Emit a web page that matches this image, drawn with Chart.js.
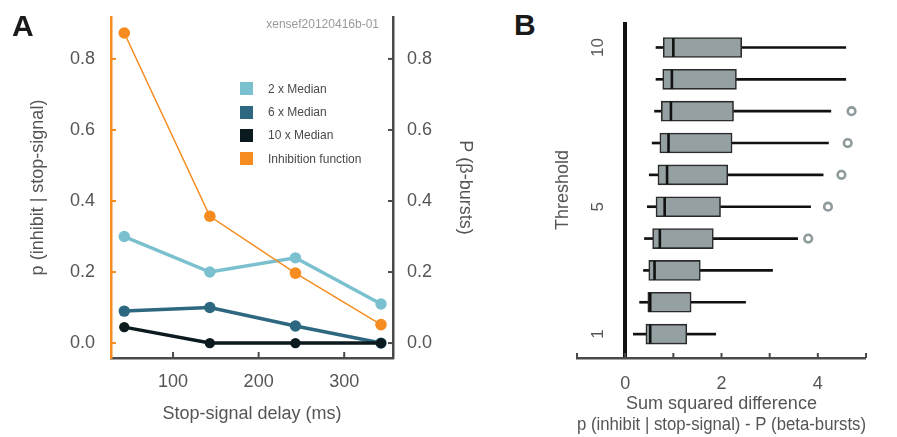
<!DOCTYPE html>
<html>
<head>
<meta charset="utf-8">
<script src="https://cdn.jsdelivr.net/npm/chart.js@4/dist/chart.umd.min.js"></script>
<style>
  html, body { margin: 0; padding: 0; background: #fff; }
  body { width: 897px; height: 437px; position: relative; overflow: hidden; font-family: "Liberation Sans", Arial, sans-serif; }
  #cA { position: absolute; left: 0; top: 0; }
  #cB { position: absolute; left: 540px; top: 0; }
  .panel { position: absolute; font-weight: bold; font-size: 30px; line-height: 30px; color: #1a1a1a; }
  #sid { position: absolute; right: 518px; top: 18px; font-size: 12px; line-height: 12px; color: #9a9a9a; }
  #legA { position: absolute; left: 240px; top: 77px; }
  .li { display: flex; align-items: center; height: 23.4px; font-size: 12px; color: #4a4a4a; }
  .sw { width: 13px; height: 13px; margin-right: 15px; }
</style>
</head>
<body>
<canvas id="cA" width="480" height="437"></canvas>
<canvas id="cB" width="357" height="437"></canvas>
<div class="panel" style="left:12px;top:11px;">A</div>
<div class="panel" style="left:514px;top:10px;">B</div>
<div id="sid">xensef20120416b-01</div>
<div id="legA"></div>
<script>
// ---------- Panel A data ----------
const DELAYS = [43, 143, 243, 343];
const MED2 = [0.30, 0.20, 0.24, 0.11];
const MED6 = [0.09, 0.10, 0.048, 0.0];
const MED10 = [0.045, 0.0, 0.0, 0.0];
const INHIB = [0.873, 0.357, 0.197, 0.052];
const SERIES_LABELS = ['2 x Median', '6 x Median', '10 x Median', 'Inhibition function'];
const A_Y_TICKS = [0, 0.2, 0.4, 0.6, 0.8];
const A_X_TICKS = [100, 200, 300];

// ---------- Panel B data ----------
const THRESHOLDS = [1, 2, 3, 4, 5, 6, 7, 8, 9, 10];
const WHISK_LO = [0.17, 0.30, 0.38, 0.40, 0.46, 0.50, 0.56, 0.61, 0.64, 0.64];
const Q1 = [0.43, 0.47, 0.49, 0.57, 0.64, 0.68, 0.72, 0.75, 0.78, 0.79];
const MEDIAN = [0.52, 0.52, 0.61, 0.72, 0.82, 0.87, 0.90, 0.95, 0.97, 1.00];
const Q3 = [1.28, 1.37, 1.56, 1.83, 1.98, 2.13, 2.22, 2.25, 2.31, 2.42];
const WHISK_HI = [1.88, 2.50, 3.06, 3.58, 3.85, 4.11, 4.22, 4.27, 4.58, 4.58];
const OUTLIER_T = [4, 5, 6, 7, 8];
const OUTLIER_V = [3.80, 4.21, 4.49, 4.62, 4.70];
const B_Y_TICKS = [1, 5, 10];
const B_X_TICKS = [-1, 0, 1, 2, 3, 4, 5];
const B_X_LABELS = ['', '0', '', '2', '', '4', ''];

Chart.defaults.font.family = '"Liberation Sans", Arial, sans-serif';
Chart.defaults.color = '#555';

const inwardTicks = {
  id: 'inwardTicks',
  afterDraw(chart, args, opts) {
    const ctx = chart.ctx;
    (opts.axes || []).forEach(a => {
      const s = chart.scales[a.id];
      if (!s) return;
      ctx.save();
      ctx.strokeStyle = a.color;
      ctx.lineWidth = a.width || 2;
      s.ticks.forEach(t => {
        const p = s.getPixelForValue(t.value);
        ctx.beginPath();
        if (s.position === 'left') { ctx.moveTo(s.right, p); ctx.lineTo(s.right + a.len, p); }
        else if (s.position === 'right') { ctx.moveTo(s.left, p); ctx.lineTo(s.left - a.len, p); }
        else { ctx.moveTo(p, s.top); ctx.lineTo(p, s.top - a.len); }
        ctx.stroke();
      });
      ctx.restore();
    });
  }
};

const fixV = w => s => { s.width = w; s.paddingTop = 0; s.paddingBottom = 0; };
const fixH = h => s => { s.height = h; s.paddingLeft = 0; s.paddingRight = 0; };

const mkPts = (xs, ys) => xs.map((x, i) => ({ x: x, y: ys[i] }));
const COL = ['#7ac0cf', '#2d6880', '#0b1a1e', '#f68b1f'];

const chartA = new Chart(document.getElementById('cA'), {
  type: 'line',
  data: {
    datasets: [
      { label: SERIES_LABELS[0], data: mkPts(DELAYS, MED2), yAxisID: 'y2', borderColor: COL[0], backgroundColor: COL[0], borderWidth: 3.5, pointRadius: 5.7, pointBorderWidth: 0, order: 4 },
      { label: SERIES_LABELS[1], data: mkPts(DELAYS, MED6), yAxisID: 'y2', borderColor: COL[1], backgroundColor: COL[1], borderWidth: 3.5, pointRadius: 5.7, pointBorderWidth: 0, order: 3 },
      { label: SERIES_LABELS[2], data: mkPts(DELAYS, MED10), yAxisID: 'y2', borderColor: COL[2], backgroundColor: COL[2], borderWidth: 3.5, pointRadius: 5.2, pointBorderWidth: 0, order: 2 },
      { label: SERIES_LABELS[3], data: mkPts(DELAYS, INHIB), yAxisID: 'y', borderColor: COL[3], backgroundColor: COL[3], borderWidth: 1.5, pointRadius: 5.8, pointBorderWidth: 0, order: 1 }
    ]
  },
  options: {
    responsive: false, animation: false, clip: false,
    layout: { padding: { top: 17, left: 0, right: 0, bottom: 0 } },
    plugins: {
      legend: { display: false }, tooltip: { enabled: false },
      inwardTicks: { axes: [
        { id: 'y', color: '#f68b1f', len: 5 },
        { id: 'y2', color: '#4a4a4a', len: 5 },
        { id: 'x', color: '#4a4a4a', len: 6 }
      ] }
    },
    scales: {
      x: {
        type: 'linear', position: 'bottom', min: 27.5, max: 357,
        afterBuildTicks: s => { s.ticks = A_X_TICKS.map(v => ({ value: v })); },
        afterFit: fixH(79),
        ticks: { font: { size: 18 }, color: '#555', padding: 13 },
        grid: { display: false, drawTicks: false },
        border: { display: true, color: '#4a4a4a', width: 2.5 },
        title: { display: true, text: 'Stop-signal delay (ms)', font: { size: 18 }, color: '#555', padding: { top: 0, bottom: 12 } }
      },
      y: {
        type: 'linear', position: 'left', min: -0.042, max: 0.918,
        afterBuildTicks: s => { s.ticks = A_Y_TICKS.map(v => ({ value: v })); },
        afterFit: fixV(111),
        ticks: { font: { size: 18 }, color: '#555', padding: 16, callback: v => v.toFixed(1) },
        grid: { display: false, drawTicks: false },
        border: { display: true, color: '#f68b1f', width: 2.5 },
        title: { display: true, text: 'p (inhibit | stop-signal)', font: { size: 18 }, color: '#555', padding: { top: 27, bottom: 0 } }
      },
      y2: {
        type: 'linear', position: 'right', min: -0.042, max: 0.918,
        afterBuildTicks: s => { s.ticks = A_Y_TICKS.map(v => ({ value: v })); },
        afterFit: fixV(87),
        ticks: { font: { size: 18 }, color: '#555', padding: 14, callback: v => v.toFixed(1) },
        grid: { display: false, drawTicks: false },
        border: { display: true, color: '#4a4a4a', width: 2.5 },
        title: { display: true, text: 'P (β-bursts)', font: { size: 18 }, color: '#555', padding: { top: 4, bottom: 0 } }
      }
    }
  },
  plugins: [inwardTicks]
});

// HTML legend built from chart datasets
(function () {
  const leg = document.getElementById('legA');
  chartA.data.datasets.forEach(ds => {
    const row = document.createElement('div');
    row.className = 'li';
    const sw = document.createElement('div');
    sw.className = 'sw';
    sw.style.background = ds.borderColor;
    const tx = document.createElement('span');
    tx.textContent = ds.label;
    row.appendChild(sw); row.appendChild(tx);
    leg.appendChild(row);
  });
})();

const rows = (lo, hi) => THRESHOLDS.map((t, i) => ({ y: t, x: [lo[i], hi[i]] }));

new Chart(document.getElementById('cB'), {
  type: 'bar',
  data: {
    datasets: [
      { type: 'bar', indexAxis: 'y', grouped: false, data: rows(WHISK_LO, Q1), backgroundColor: '#111', borderWidth: 0, barThickness: 2, order: 4 },
      { type: 'bar', indexAxis: 'y', grouped: false, data: rows(Q3, WHISK_HI), backgroundColor: '#111', borderWidth: 0, barThickness: 2, order: 4 },
      { type: 'bar', indexAxis: 'y', grouped: false, data: rows(Q1, Q3), backgroundColor: '#95a0a3', borderColor: '#2b2b2b', borderWidth: 1.6, borderSkipped: false, barThickness: 20, order: 3 },
      { type: 'scatter', data: mkPts(MEDIAN, THRESHOLDS), pointStyle: 'line', rotation: 90, pointRadius: 9.5, borderColor: '#111', borderWidth: 2.6, order: 2 },
      { type: 'scatter', data: mkPts(OUTLIER_V, OUTLIER_T), pointStyle: 'circle', pointRadius: 3.8, borderColor: '#8e9a9c', backgroundColor: 'rgba(255,255,255,0)', borderWidth: 2.6, order: 1 }
    ]
  },
  options: {
    responsive: false, animation: false, indexAxis: 'y',
    layout: { padding: { top: 22, left: 0, right: 31, bottom: 0 } },
    plugins: {
      legend: { display: false }, tooltip: { enabled: false },
      inwardTicks: { axes: [{ id: 'x', color: '#4a4a4a', len: 5 }] }
    },
    scales: {
      x: {
        type: 'linear', position: 'bottom', min: -1, max: 5, offset: false,
        afterBuildTicks: s => { s.ticks = B_X_TICKS.map(v => ({ value: v })); },
        afterFit: fixH(79),
        ticks: { font: { size: 18 }, color: '#555', padding: 15, callback: v => B_X_LABELS[B_X_TICKS.indexOf(v)] },
        grid: {
          display: true, drawTicks: false, drawOnChartArea: true,
          color: c => (c.tick && c.tick.value === 0) ? '#111' : 'rgba(0,0,0,0)',
          lineWidth: c => (c.tick && c.tick.value === 0) ? 4 : 0
        },
        border: { display: true, color: '#4a4a4a', width: 2.5 },
        title: { display: true, text: ['Sum squared difference', 'p (inhibit | stop-signal) - P (beta-bursts)'], font: { size: 18 }, color: '#555', padding: { top: 0, bottom: 1 } }
      },
      y: {
        type: 'linear', position: 'left', min: 0.25, max: 10.8, offset: false,
        afterBuildTicks: s => { s.ticks = B_Y_TICKS.map(v => ({ value: v })); },
        afterFit: fixV(37),
        ticks: { font: { size: 17 }, color: '#555', mirror: true, minRotation: 90, maxRotation: 90, crossAlign: 'center', padding: 11.5 },
        grid: { display: false, drawTicks: false },
        border: { display: false },
        title: { display: true, text: 'Threshold', font: { size: 18 }, color: '#555', padding: { top: 12, bottom: 0 } }
      }
    }
  },
  plugins: [inwardTicks]
});
</script>
</body>
</html>
